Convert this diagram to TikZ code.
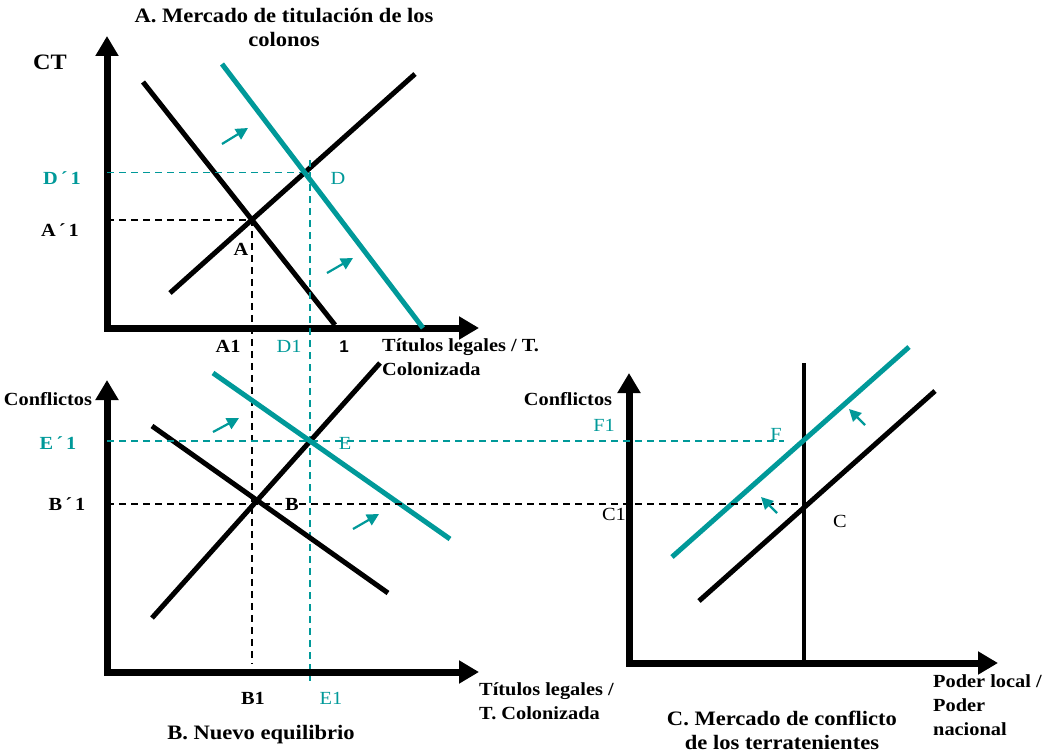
\documentclass[tikz,border=0pt]{standalone}
\usepackage{fontspec}
\setmainfont[FakeStretch=1.1]{Liberation Serif}
\setsansfont{Liberation Sans}
\usepackage{tikz}
\usetikzlibrary{positioning,arrows.meta}
\definecolor{verde}{RGB}{0,153,153}

\begin{document}
\begin{tikzpicture}[x=1pt, y=-1pt,
  ejes/.style={line width=7pt, line join=miter,
               {Triangle[length=20pt,width=22pt]}-{Triangle[length=20pt,width=22pt]}},
  curva/.style={line width=5pt, black},
  curvaverde/.style={line width=5pt, verde},
  guia/.style={line width=1.4pt, dash pattern=on 7pt off 5pt},
  guiaverde/.style={guia, verde},
  flechita/.style={line width=2.2pt, verde, -{Triangle[length=12pt,width=12pt]}},
  etiqueta/.style={font=\fontsize{18.5}{24}\selectfont\bfseries, inner sep=0pt},
  etiverde/.style={font=\fontsize{18.5}{24}\selectfont, text=verde, inner sep=0pt},
  titulo/.style={font=\fontsize{20.5}{24}\selectfont\bfseries, align=center, inner sep=0pt}]
  \useasboundingbox (0,0) rectangle (1045,752);
  % A. colonos
  \coordinate (oA) at (107,328);
  \coordinate (yA) at (107,36);
  \coordinate (xA) at (479,328);
  \draw[ejes] (yA) -- (oA) -- (xA);
  \coordinate (dA1) at (143,82);  \coordinate (dA2) at (335,325);
  \coordinate (sA1) at (170,293); \coordinate (sA2) at (415,74);
  \coordinate (tA1) at (222,64);  \coordinate (tA2) at (423,328);
  \draw[curva] (dA1) -- (dA2);
  \draw[curva] (sA1) -- (sA2);
  \draw[curvaverde] (tA1) -- (tA2);
  \coordinate (A) at (intersection of dA1--dA2 and sA1--sA2);
  \coordinate (D) at (intersection of tA1--tA2 and sA1--sA2);
  \draw[guia] (oA |- A) -- (A) -- (A |- 0,664);
  \draw[guiaverde] (oA |- D) -- (D);
  \draw[guiaverde] (310,160) -- (310,681);
  \draw[flechita] (222,144) -- (248,128);
  \draw[flechita] (327,273) -- (353,258);
  \node[titulo] (titA) at (284,27) {A. Mercado de titulación de los\\colonos};
  \node[etiqueta, font=\fontsize{22}{24}\selectfont\bfseries] (ct) at (50,62) {CT};
  \node[etiqueta, text=verde] (dp) at (62,178) {D\,´\,1};
  \node[etiqueta] (ap) at (60,230) {A\,´\,1};
  \node[etiqueta] (la) at (241,249) {A};
  \node[etiverde] (ld) at (338,178) {D};
  \node[etiqueta] (a1) at (228,346) {A1};
  \node[etiverde] (d1) at (289,346) {D1};
  \node[etiqueta, font=\fontsize{17}{24}\selectfont\sffamily\bfseries] (uno) at (344,347) {1};
  \node[etiqueta, align=left, anchor=west] (xtA) at (382,357) {Títulos legales / T.\\Colonizada};
  % B. nuevo equilibrio
  \coordinate (oB) at (107,672);
  \coordinate (yB) at (107,380);
  \coordinate (xB) at (479,672);
  \draw[ejes] (yB) -- (oB) -- (xB);
  \coordinate (sB1) at (152,618); \coordinate (sB2) at (380,363);
  \coordinate (dB1) at (152,426); \coordinate (dB2) at (388,593);
  \coordinate (tB1) at (213,373); \coordinate (tB2) at (450,539);
  \draw[curva] (sB1) -- (sB2);
  \draw[curva] (dB1) -- (dB2);
  \draw[curvaverde] (tB1) -- (tB2);
  \coordinate (B) at (intersection of sB1--sB2 and dB1--dB2);
  \coordinate (E) at (intersection of sB1--sB2 and tB1--tB2);
  \draw[flechita] (213,432) -- (239,418);
  \draw[flechita] (353,529) -- (379,514);
  \node[etiqueta] (confB) at (48,399) {Conflictos};
  \node[etiqueta, text=verde] (ep) at (58,443) {E\,´\,1};
  \node[etiqueta] (bp) at (67,504) {B\,´\,1};
  \node[etiqueta] (lb) at (292,504) {B};
  \node[etiverde] (le) at (345,443) {E};
  \node[etiqueta] (b1) at (253,698) {B1};
  \node[etiverde] (e1) at (331,698) {E1};
  \node[etiqueta, align=left, anchor=west] (xtB) at (479,701) {Títulos legales /\\T. Colonizada};
  \node[titulo] (titB) at (261,735) {B. Nuevo equilibrio};
  % C. terratenientes
  \coordinate (oC) at (629,663);
  \coordinate (yC) at (629,373);
  \coordinate (xC) at (998,663);
  \coordinate (vC1) at (804,363); \coordinate (vC2) at (804,663);
  \coordinate (cC1) at (699,601); \coordinate (cC2) at (935,391);
  \coordinate (fC1) at (672,557); \coordinate (fC2) at (909,347);
  \draw[line width=3.5pt] (vC1) -- (vC2);
  \draw[ejes] (yC) -- (oC) -- (xC);
  \draw[curva] (cC1) -- (cC2);
  \draw[curvaverde] (fC1) -- (fC2);
  \coordinate (C) at (intersection of cC1--cC2 and vC1--vC2);
  \coordinate (F) at (intersection of fC1--fC2 and vC1--vC2);
  \draw[guia] (oB |- 0,504) -- (vC2 |- 0,504);
  \draw[guiaverde] (oB |- E) -- (784,0 |- E);
  \draw[flechita] (865,425) -- (849,409);
  \draw[flechita] (777,513) -- (761,497);
  \node[etiqueta] (confC) at (568,399) {Conflictos};
  \node[etiverde] (f1) at (604,425) {F1};
  \node[etiverde] (lf) at (776,434) {F};
  \node[etiverde, text=black] (c1) at (614,514) {C1};
  \node[etiverde, text=black] (lc) at (840,521) {C};
  \node[etiqueta, align=left, anchor=west] (xtC) at (933,705) {Poder local /\\Poder\\nacional};
  \node[titulo] (titC) at (782,730) {C. Mercado de conflicto\\de los terratenientes};
\end{tikzpicture}
\end{document}
